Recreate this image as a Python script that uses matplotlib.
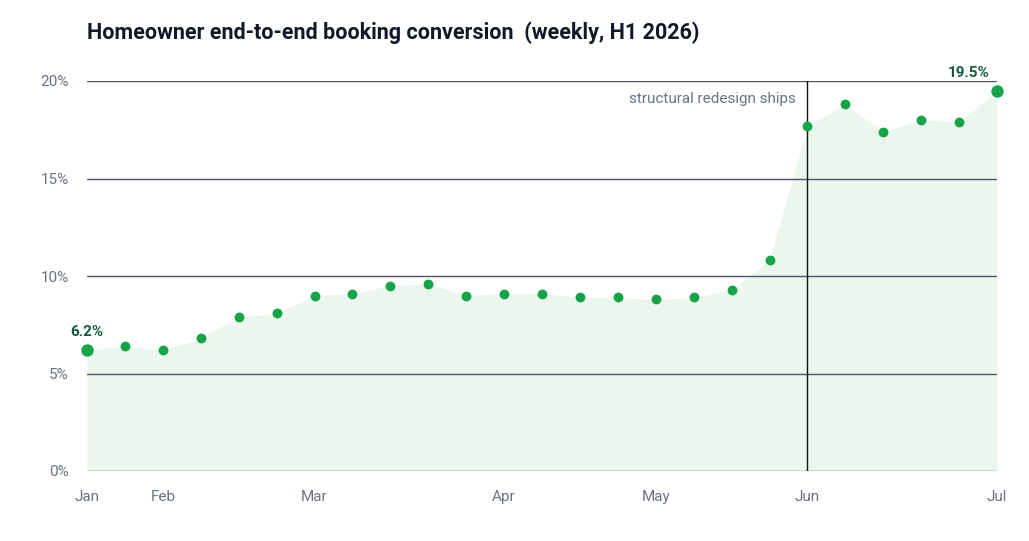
import numpy as np
import matplotlib.pyplot as plt

plt.rcParams['font.family'] = ['Roboto', 'DejaVu Sans']

conversion = [6.2, 6.4, 6.2, 6.8, 7.9, 8.1, 9.0, 9.1, 9.5, 9.6, 9.0, 9.1, 9.1,
              8.9, 8.9, 8.8, 8.9, 9.3, 10.8, 17.7, 18.8, 17.4, 18.0, 17.9, 19.5]
month_labels = ['Jan', 'Feb', 'Mar', 'Apr', 'May', 'Jun', 'Jul']
month_weeks = [0, 2, 6, 11, 15, 19, 24]
yticks = [0, 5, 10, 15, 20]
event_week = 19
event_label = 'structural redesign ships'

green = '#16a34a'
dark_green = '#14593a'
grey = '#6b7280'

x = np.arange(len(conversion))
y = np.array(conversion)

fig = plt.figure(figsize=(10.29, 5.41), dpi=100)
ax = fig.add_axes([87 / 1029, 1 - 471 / 541, 910 / 1029, 390 / 541])

ax.fill_between(x, 0, y, color='#ebf7ee', lw=0, zorder=1)
for t in yticks:
    ax.axhline(t, color='#4b5563', lw=1, zorder=2)
ax.plot([event_week, event_week], [0, 20], color='#111111', lw=1, zorder=3)
ax.text(event_week - 0.3, 19.1, event_label, ha='right', va='center',
        fontsize=11, color=grey)

ax.scatter(x[1:-1], y[1:-1], s=50, color=green, zorder=4, lw=0, clip_on=False)
ax.scatter([x[0], x[-1]], [y[0], y[-1]], s=80, color=green, zorder=4, lw=0,
           clip_on=False)
ax.text(x[0], y[0] + 0.55, f'{y[0]:.1f}%', ha='center', va='bottom',
        fontsize=11, fontweight='bold', color=dark_green)
ax.text(x[-1] - 0.2, y[-1] + 0.55, f'{y[-1]:.1f}%', ha='right', va='bottom',
        fontsize=11, fontweight='bold', color=dark_green)

ax.set_xlim(0, 24)
ax.set_ylim(0, 20)
ax.set_xticks(month_weeks)
ax.set_xticklabels(month_labels)
ax.set_yticks(yticks)
ax.set_yticklabels([f'{t}%' for t in yticks])
ax.tick_params(length=0, labelsize=11, labelcolor=grey)
ax.tick_params(axis='x', pad=14)
ax.tick_params(axis='y', pad=13)
for s in ax.spines.values():
    s.set_visible(False)

fig.text(87 / 1029, 1 - 33 / 541, 'Homeowner end-to-end booking conversion  (weekly, H1 2026)',
         fontsize=15.5, fontweight='bold', color='#111827', va='center', ha='left')

fig.savefig('out.png', dpi=100)
